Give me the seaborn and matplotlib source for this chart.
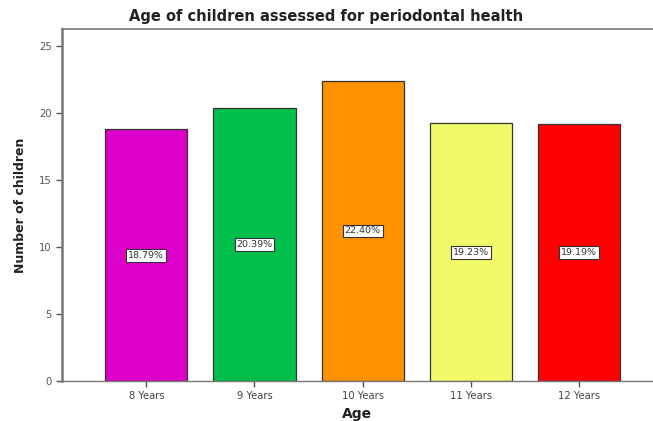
import matplotlib
matplotlib.use("Agg")
import matplotlib.pyplot as plt
import seaborn as sns
import pandas as pd

categories = ["8 Years", "9 Years", "10 Years", "11 Years", "12 Years"]
values = [18.79, 20.39, 22.40, 19.23, 19.19]
labels = ["18.79%", "20.39%", "22.40%", "19.23%", "19.19%"]
colors = ["#DD00C8", "#00C04B", "#FF9200", "#F2FA6A", "#FF0000"]

sns.set_style("white")
plt.rcParams['font.family'] = ['DejaVu Sans']

df = pd.DataFrame({"Age": categories, "Count": values})

fig = plt.figure(figsize=(6.53, 4.21), dpi=100)
ax = fig.add_axes([62/653, 40/421, 1 - 62/653, (381-29)/421])

sns.barplot(data=df, x="Age", y="Count", hue="Age", palette=colors, legend=False,
            width=0.76, edgecolor="#333333", linewidth=0.9, ax=ax, saturation=1)

for i, (v, lab) in enumerate(zip(values, labels)):
    ax.text(i, v / 2, lab, ha="center", va="center", fontsize=6.8, color="#333333",
            bbox=dict(boxstyle="square,pad=0.2", facecolor="white", edgecolor="#333333", linewidth=0.8))

ax.set_xlim(-0.78, 4.685)
ax.set_ylim(0, 26.27)
ax.set_yticks([0, 5, 10, 15, 20, 25])
ax.tick_params(axis="both", labelsize=7.2, colors="#555555", length=4, width=1, direction="out")
ax.tick_params(axis="x", labelcolor="#444444")
ax.yaxis.set_ticks_position("left")
ax.xaxis.set_ticks_position("bottom")

for side in ["left", "top", "bottom"]:
    ax.spines[side].set_visible(True)
    ax.spines[side].set_color("#777777")
ax.spines["left"].set_linewidth(1.8)
ax.spines["top"].set_linewidth(1.2)
ax.spines["bottom"].set_linewidth(1.0)
ax.spines["right"].set_visible(False)

ax.set_xlabel("Age", fontsize=10, fontweight="bold", color="#222222", labelpad=4)
ax.set_ylabel("Number of children", fontsize=9, fontweight="bold", color="#222222")
ax.yaxis.set_label_coords(-0.06, 0.5)
fig.text(0.5, 1 - 17/421, "Age of children assessed for periodontal health", ha="center", va="center",
         fontsize=10.5, fontweight="bold", color="#222222")

fig.savefig("out.png", dpi=100)
